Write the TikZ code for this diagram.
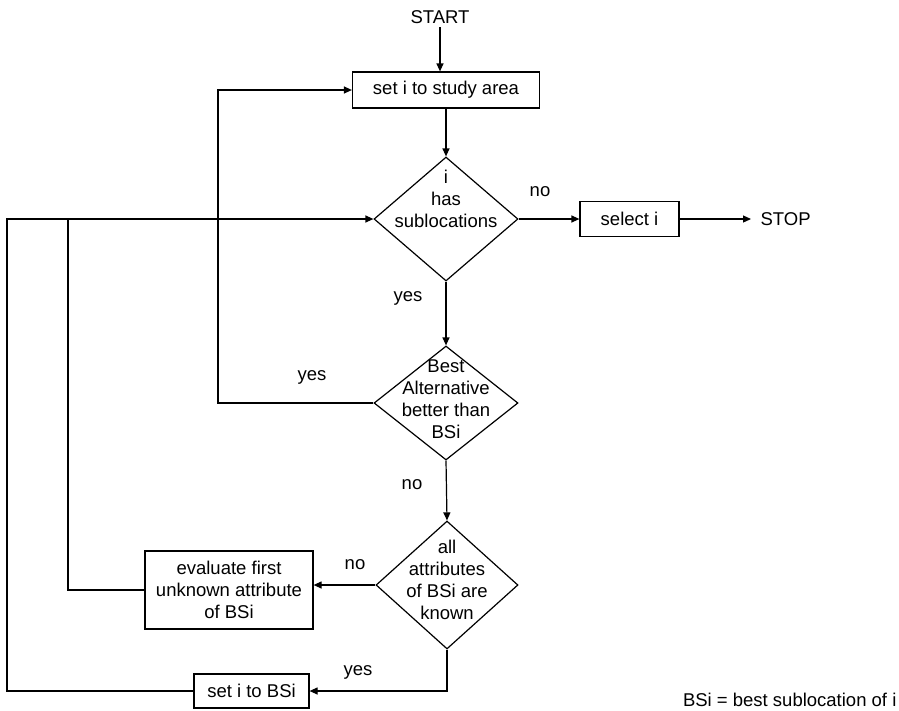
\documentclass[tikz,border=0pt]{standalone}
\usepackage{fontspec}
\setmainfont{Liberation Sans}
\usetikzlibrary{shapes.geometric,arrows.meta}
\begin{document}
\begin{tikzpicture}[x=1pt,y=-1pt,line width=1.2pt,
  every node/.style={font=\fontsize{18.5}{22}\selectfont},
  box/.style={draw,rectangle,inner sep=0pt,align=center},
  dia/.style={draw,diamond,inner sep=0pt},
  lbl/.style={align=center,inner sep=0pt},
  arr/.style={-{Triangle[length=8pt,width=7pt]}}]
\useasboundingbox (0,0) rectangle (899,710);
% nodes
\node (start) at (440,17) {START};
\node[box,minimum width=187pt,minimum height=36pt] (b1) at (446,90) {set i to study area};
\node[dia,minimum width=144pt,minimum height=124pt] (d1) at (446,219) {};
\node[lbl] (d1t) at (446,199) {i\\has\\sublocations};
\node[box,minimum width=99pt,minimum height=35pt] (sel) at (629.5,219) {select i};
\node[anchor=west,inner sep=0pt] (stop) at (760,219) {STOP};
\node[dia,minimum width=144pt,minimum height=114pt] (d2) at (446,403) {};
\node[lbl] (d2t) at (446,399) {Best\\Alternative\\better than\\BSi};
\node[dia,minimum width=142pt,minimum height=128pt] (d3) at (447,585) {};
\node[lbl] (d3t) at (447,580) {all\\attributes\\of BSi are\\known};
\node[box,minimum width=168pt,minimum height=78pt] (ev) at (229,590) {evaluate first\\unknown attribute\\of BSi};
\node[box,minimum width=115pt,minimum height=34pt] (sb) at (251.5,691) {set i to BSi};
\node[anchor=east,inner sep=0pt] (leg) at (897,700) {BSi = best sublocation of i};
% labels
\node (no1) at (540,192) {no};
\node (yes1) at (408,298) {yes};
\node (yes2) at (312,377) {yes};
\node (no2) at (412,485) {no};
\node (no3) at (355,565) {no};
\node (yes3) at (358,672) {yes};
% helper coordinates
\coordinate (lx) at (218,0);
\coordinate (ox) at (7,0);
\coordinate (ix) at (68,0);
% connectors
\draw[arr] (start.south) -- (b1.north -| start);
\draw[arr] (b1.south) -- (d1.north);
\draw[arr] (d1.east) -- (sel.west);
\draw[arr,shorten >=9pt] (sel.east) -- (stop.west);
\draw[arr] (d1.south) -- (d2.north);
\draw[arr] (d2.west) -- (lx |- d2.west) -- (lx |- b1.west) -- (b1.west);
\draw[arr] (d2.south) -- (d3.north);
\draw[arr] (d3.west) -- (d3.west -| ev.east);
\draw[arr] (d3.south) |- (sb.east);
\draw[arr] (sb.west) -- (ox |- sb.west) -- (ox |- d1.west) -- (d1.west);
\draw (ev.west) -- (ix |- ev.west) -- (ix |- d1.west);
\end{tikzpicture}
\end{document}
